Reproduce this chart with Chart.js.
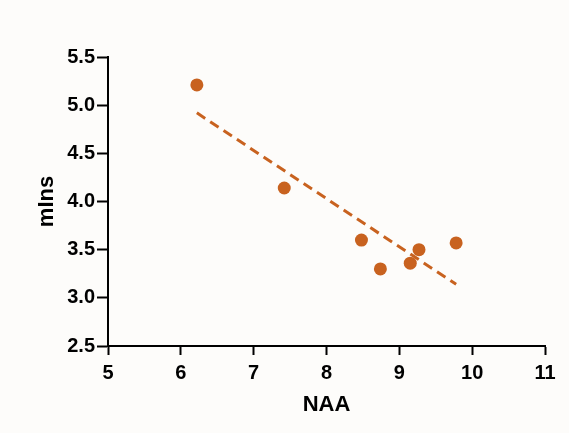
<!DOCTYPE html>
<html>
<head>
<meta charset="utf-8">
<script src="https://cdn.jsdelivr.net/npm/chart.js@4"></script>
<style>
    html, body { margin: 0; padding: 0; background: #fdfcfa; }
    canvas { display: block; }
</style>
</head>
<body>
<canvas id="naaChart" width="569" height="433"></canvas>
<script>
// ================= DATA =================
const naaValues = [6.22, 7.42, 8.48, 8.74, 9.15, 9.27, 9.78];
const mInsValues = [5.21, 4.14, 3.60, 3.30, 3.36, 3.50, 3.57];

// fitted trend line, from first to last NAA value
const fitX = [6.22, 9.78];
const fitY = [4.92, 3.14];

const xTicks = [5, 6, 7, 8, 9, 10, 11];
const yTicks = [2.5, 3.0, 3.5, 4.0, 4.5, 5.0, 5.5];

const ORANGE = "#c8621f";
const FONT = "'Liberation Sans', Arial, sans-serif";

// ================= CHART =================
const points = naaValues.map((x, i) => ({ x: x, y: mInsValues[i] }));
const fitLine = fitX.map((x, i) => ({ x: x, y: fitY[i] }));

new Chart(document.getElementById("naaChart"), {
    type: "scatter",
    data: {
        datasets: [
            {
                label: "mIns",
                data: points,
                backgroundColor: ORANGE,
                borderColor: ORANGE,
                pointRadius: 6.5,
                pointBorderWidth: 0
            },
            {
                type: "line",
                label: "fit",
                data: fitLine,
                borderColor: ORANGE,
                borderWidth: 3,
                borderDash: [10, 6],
                pointRadius: 0,
                fill: false
            }
        ]
    },
    options: {
        responsive: false,
        animation: false,
        layout: {
            padding: { top: 57, right: 24, left: 0, bottom: 0 }
        },
        plugins: {
            legend: { display: false },
            tooltip: { enabled: false }
        },
        scales: {
            x: {
                type: "linear",
                min: xTicks[0],
                max: xTicks[xTicks.length - 1],
                afterBuildTicks: axis => { axis.ticks = xTicks.map(v => ({ value: v })); },
                afterFit: axis => { axis.height = 87; },
                border: { color: "#000", width: 2 },
                grid: {
                    drawOnChartArea: false,
                    tickLength: 9,
                    tickColor: "#000",
                    tickWidth: 2
                },
                ticks: {
                    color: "#000",
                    padding: 6,
                    font: { family: FONT, size: 20, weight: "bold" }
                },
                title: {
                    display: true,
                    text: "NAA",
                    color: "#000",
                    padding: { top: 4, bottom: 15 },
                    font: { family: FONT, size: 22, weight: "bold" }
                }
            },
            y: {
                min: yTicks[0],
                max: yTicks[yTicks.length - 1],
                afterBuildTicks: axis => { axis.ticks = yTicks.map(v => ({ value: v })); },
                afterFit: axis => { axis.width = 108; },
                border: { color: "#000", width: 2 },
                grid: {
                    drawOnChartArea: false,
                    tickLength: 11,
                    tickColor: "#000",
                    tickWidth: 2
                },
                ticks: {
                    color: "#000",
                    padding: 2,
                    callback: v => v.toFixed(1),
                    font: { family: FONT, size: 20, weight: "bold" }
                },
                title: {
                    display: true,
                    text: "mIns",
                    color: "#000",
                    padding: { top: 34, bottom: 4 },
                    font: { family: FONT, size: 22, weight: "bold" }
                }
            }
        }
    }
});
</script>
</body>
</html>
